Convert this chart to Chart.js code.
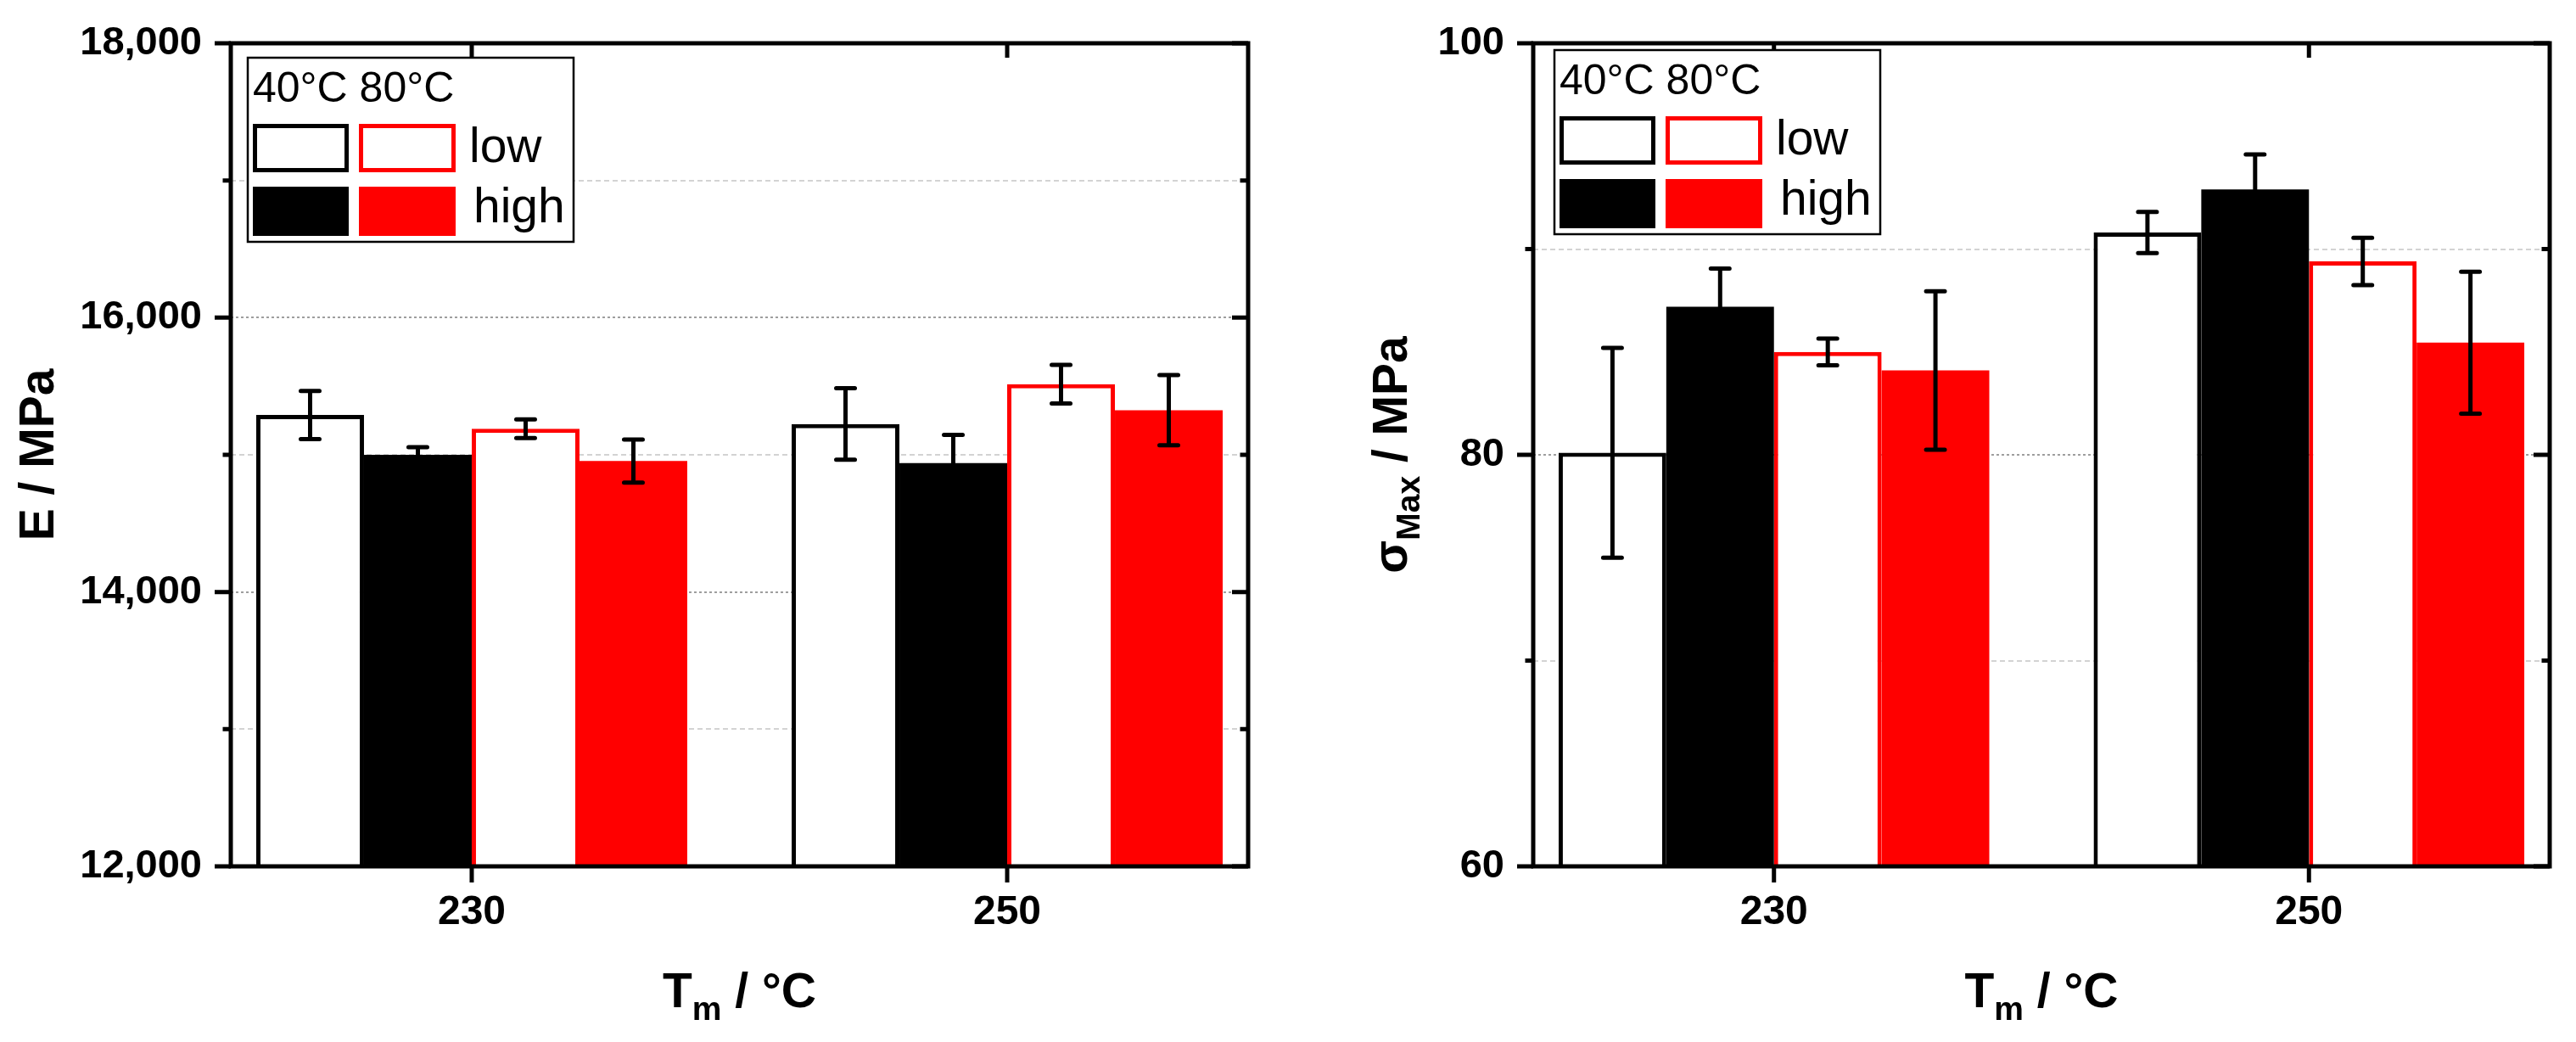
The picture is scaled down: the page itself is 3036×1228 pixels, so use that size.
<!DOCTYPE html>
<html>
<head>
<meta charset="utf-8">
<script src="https://cdn.jsdelivr.net/npm/chart.js@4.4.1/dist/chart.umd.min.js"></script>
<style>
  html, body { margin: 0; padding: 0; background: #fff; }
  #wrap { position: relative; width: 3036px; height: 1228px; }
  canvas { position: absolute; top: 0; }
  #modulus { left: 0; }
  #strength { left: 1518px; }
</style>
</head>
<body>
<div id="wrap">
  <canvas id="modulus" width="1518" height="1228"></canvas>
  <canvas id="strength" width="1518" height="1228"></canvas>
</div>
<script>
// melt temperatures (x categories) and legend labels
const meltTemps = [230, 250];
const xRange = [221, 259];
const moldTemps = ['40°C', '80°C'];
const levels = ['low', 'high'];

// Young's modulus E / MPa, mean and std dev per melt temperature
const e40Low = [15290, 15225];
const e40LowErr = [175, 260];
const e40High = [15000, 14940];
const e40HighErr = [56, 205];
const e80Low = [15190, 15515];
const e80LowErr = [68, 140];
const e80High = [14955, 15325];
const e80HighErr = [157, 256];
const eTicks = [12000, 14000, 16000, 18000];

// tensile strength sigma_max / MPa
const s40Low = [80.1, 90.8];
const s40LowErr = [5.1, 1.0];
const s40High = [87.2, 92.9];
const s40HighErr = [1.85, 1.7];
const s80Low = [85.0, 89.4];
const s80LowErr = [0.65, 1.15];
const s80High = [84.1, 85.45];
const s80HighErr = [3.85, 3.45];
const sTicks = [60, 80, 100];

const FONT = '"Liberation Sans", Arial, sans-serif';
const RED = '#ff0000';
Chart.defaults.font.family = FONT;
Chart.defaults.color = '#000';

// 40 low, 40 high, 80 low, 80 high
const STYLES = [
  { fill: '#ffffff', stroke: '#000000', width: 5 },
  { fill: '#000000', stroke: '#000000', width: 0 },
  { fill: '#ffffff', stroke: RED, width: 5 },
  { fill: RED, stroke: RED, width: 0 }
];

function drawParts(ctx, parts, x, y) {
  const main = `bold 57px ${FONT}`, sub = `bold 39px ${FONT}`;
  let total = 0;
  parts.forEach(p => { ctx.font = p.sub ? sub : main; total += ctx.measureText(p.t).width; });
  let cx = x - total / 2;
  ctx.textAlign = 'left';
  ctx.textBaseline = 'alphabetic';
  parts.forEach(p => {
    ctx.font = p.sub ? sub : main;
    ctx.fillText(p.t, cx, y + (p.sub ? 15 : 0));
    cx += ctx.measureText(p.t).width;
  });
}

function swatch(ctx, st, x, y, w, h) {
  ctx.fillStyle = st.fill;
  ctx.fillRect(x, y, w, h);
  if (st.width) {
    ctx.strokeStyle = st.stroke;
    ctx.lineWidth = st.width;
    ctx.strokeRect(x + st.width / 2, y + st.width / 2, w - st.width, h - st.width);
  }
}

const decor = {
  id: 'decor',
  afterDatasetsDraw(chart) {
    const ctx = chart.ctx, y = chart.scales.y;
    ctx.save();
    ctx.strokeStyle = '#000';
    ctx.lineWidth = 5;
    chart.data.datasets.forEach((ds, i) => {
      chart.getDatasetMeta(i).data.forEach((bar, j) => {
        const v = ds.data[j].y, e = ds.errors[j];
        const yt = y.getPixelForValue(v + e), yb = y.getPixelForValue(v - e);
        ctx.lineCap = 'butt';
        ctx.beginPath();
        ctx.moveTo(bar.x, yt); ctx.lineTo(bar.x, yb);
        ctx.stroke();
        ctx.lineCap = 'round';
        ctx.beginPath();
        ctx.moveTo(bar.x - 11, yt); ctx.lineTo(bar.x + 11, yt);
        ctx.moveTo(bar.x - 11, yb); ctx.lineTo(bar.x + 11, yb);
        ctx.stroke();
      });
    });
    ctx.restore();
  },
  afterDraw(chart, args, opts) {
    const ctx = chart.ctx, ca = chart.chartArea;
    const xs = chart.scales.x, ys = chart.scales.y;
    ctx.save();
    ctx.strokeStyle = '#000';
    ctx.lineCap = 'butt';
    ctx.lineWidth = 5;
    ctx.strokeRect(ca.left, ca.top, ca.right - ca.left, ca.bottom - ca.top);
    // y ticks: outward on the left, inward on the right
    ys.ticks.forEach(t => {
      const py = ys.getPixelForValue(t.value);
      const len = opts.yLabels.includes(t.value) ? 19 : 9.5;
      ctx.beginPath();
      ctx.moveTo(ca.left - len, py); ctx.lineTo(ca.left, py);
      ctx.moveTo(ca.right - len, py); ctx.lineTo(ca.right, py);
      ctx.stroke();
    });
    xs.ticks.forEach(t => {
      const px = xs.getPixelForValue(t.value);
      ctx.beginPath();
      ctx.moveTo(px, ca.bottom); ctx.lineTo(px, ca.bottom + 19);
      ctx.moveTo(px, ca.top); ctx.lineTo(px, ca.top + 17);
      ctx.stroke();
    });

    // axis titles
    ctx.fillStyle = '#000';
    drawParts(ctx, [{ t: 'T' }, { t: 'm', sub: true }, { t: ' / °C' }], (ca.left + ca.right) / 2, 1187);
    ctx.save();
    ctx.translate(opts.yTitleX, (ca.top + ca.bottom) / 2);
    ctx.rotate(-Math.PI / 2);
    drawParts(ctx, opts.yTitle, 0, 0);
    ctx.restore();

    // legend box
    const bx = ca.left + opts.legendDx, by = ca.top + opts.legendDy;
    ctx.fillStyle = '#fff';
    ctx.fillRect(bx, by, 384, 217);
    ctx.lineWidth = 2.5;
    ctx.strokeRect(bx, by, 384, 217);
    ctx.fillStyle = '#000';
    ctx.textAlign = 'left';
    ctx.textBaseline = 'alphabetic';
    ctx.font = `50px ${FONT}`;
    ctx.fillText(moldTemps.join(' '), bx + 6, by + 52);
    const rows = [[78, 57], [152, 58]];
    const cols = [[6, 113], [131, 114]];
    rows.forEach((r, ri) => {
      cols.forEach((c, ci) => swatch(ctx, STYLES[ci * 2 + ri], bx + c[0], by + r[0], c[1], r[1]));
    });
    ctx.fillStyle = '#000';
    ctx.font = `57px ${FONT}`;
    ctx.fillText(levels[0], bx + 261, by + 123);
    ctx.fillText(levels[1], bx + 266, by + 194);
    ctx.restore();
  }
};

function buildChart(canvasId, series, errors, yMin, yMax, yStep, yLabels, look) {
  const datasets = series.map((vals, i) => ({
    label: moldTemps[i >> 1] + ' ' + levels[i & 1],
    data: meltTemps.map((t, j) => ({ x: t, y: vals[j] })),
    errors: errors[i],
    backgroundColor: STYLES[i].fill,
    borderColor: STYLES[i].stroke,
    borderWidth: STYLES[i].width,
    borderSkipped: false
  }));
  const isMajor = ctx => ctx.tick && yLabels.includes(ctx.tick.value);

  return new Chart(document.getElementById(canvasId), {
    type: 'bar',
    data: { datasets },
    options: {
      responsive: false,
      animation: false,
      devicePixelRatio: 1,
      categoryPercentage: 0.805,
      barPercentage: 1,
      layout: { padding: { left: 0, top: 51, right: look.padRight, bottom: 0 } },
      scales: {
        x: {
          type: 'linear',
          offset: false,
          bounds: 'data',
          min: xRange[0],
          max: xRange[1],
          afterBuildTicks: s => { s.ticks = meltTemps.map(v => ({ value: v })); },
          afterFit: s => { s.height = 207; s.paddingLeft = 0; s.paddingRight = 0; },
          ticks: {
            padding: 26,
            autoSkip: false,
            maxRotation: 0,
            font: { size: 48, weight: 'bold' },
            callback: v => String(v)
          },
          grid: { display: false, drawTicks: false, offset: false },
          border: { display: false }
        },
        y: {
          min: yMin,
          max: yMax,
          afterFit: s => { s.width = look.yWidth; s.paddingTop = 28; s.paddingBottom = 28; },
          ticks: {
            stepSize: yStep,
            padding: 34,
            font: { size: 47, weight: 'bold' },
            callback: v => yLabels.includes(v) ? v.toLocaleString('en-US') : ''
          },
          grid: {
            drawTicks: false,
            lineWidth: 2,
            color: ctx => isMajor(ctx) ? '#9e9e9e' : '#d3d3d3'
          },
          border: { display: false, dash: ctx => isMajor(ctx) ? [3, 3] : [6, 4] }
        }
      },
      plugins: {
        legend: { display: false },
        tooltip: { enabled: false },
        decor: {
          yLabels,
          yTitle: look.yTitle,
          yTitleX: look.yTitleX,
          legendDx: look.legendDx,
          legendDy: look.legendDy
        }
      }
    },
    plugins: [decor]
  });
}

buildChart('modulus',
  [e40Low, e40High, e80Low, e80High],
  [e40LowErr, e40HighErr, e80LowErr, e80HighErr],
  12000, 18000, 1000, eTicks,
  { yWidth: 272, padRight: 47, yTitleX: 63, legendDx: 20, legendDy: 17,
    yTitle: [{ t: 'E / MPa' }] });

buildChart('strength',
  [s40Low, s40High, s80Low, s80High],
  [s40LowErr, s40HighErr, s80LowErr, s80HighErr],
  60, 100, 10, sTicks,
  { yWidth: 289, padRight: 31, yTitleX: 140, legendDx: 25, legendDy: 8,
    yTitle: [{ t: 'σ' }, { t: 'Max', sub: true }, { t: ' / MPa' }] });
</script>
</body>
</html>
